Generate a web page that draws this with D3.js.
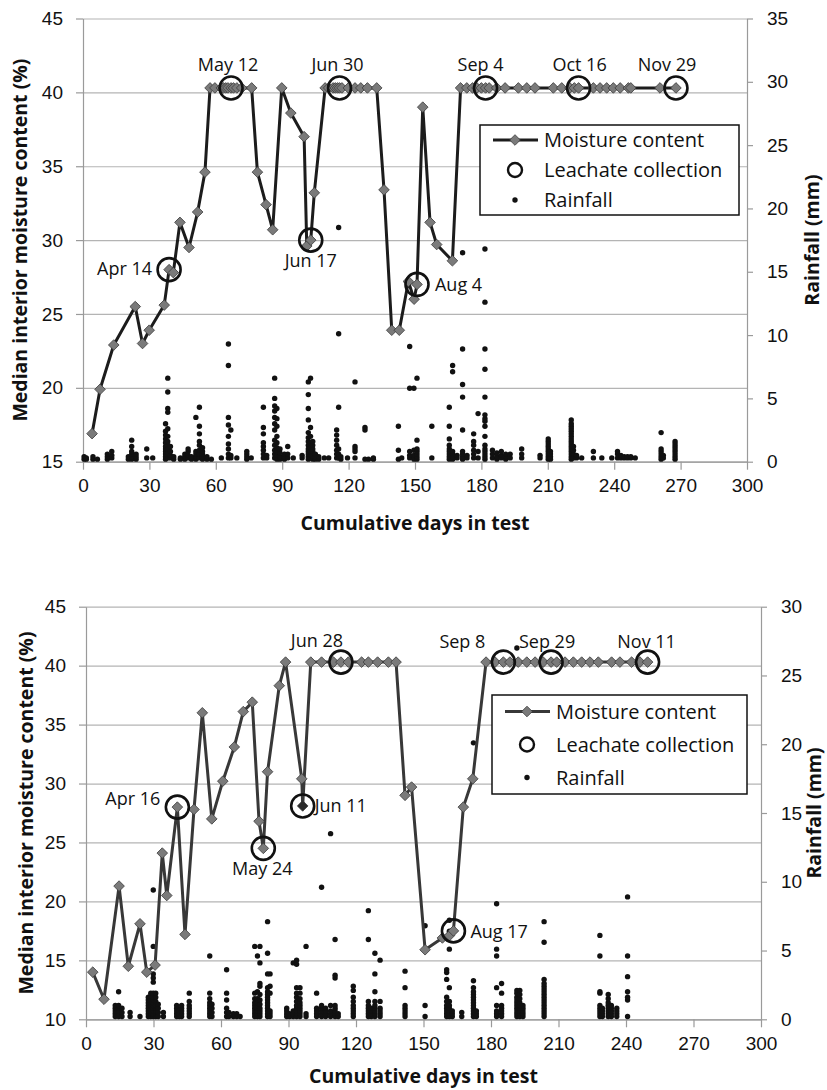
<!DOCTYPE html>
<html>
<head>
<meta charset="utf-8">
<script src="https://cdn.jsdelivr.net/npm/d3@7"></script>
<style>
  body { margin: 0; background: #fff; }
  svg { display: block; font-family: "Open Sans", sans-serif; }
  .grid line { stroke: #b4b4b4; stroke-width: 1.2; }
  .grid path { display: none; }
  .axis path, .axis line { stroke: #9a9a9a; stroke-width: 1.2; }
  .axis text { font-size: 19px; fill: #111; }
  .title { font-size: 19.5px; font-weight: bold; fill: #111; }
  .note { font-size: 18px; fill: #111; }
  .legend text { font-size: 20px; fill: #111; }
</style>
</head>
<body>
<svg id="chart" width="827" height="1090"></svg>
<script>
// ---------- data ----------
const xTicks = [0, 30, 60, 90, 120, 150, 180, 210, 240, 270, 300];

// top panel
const topMoisture = [[4.1,16.9],[7.7,19.9],[13.9,22.9],[23.6,25.5],[26.9,23.0],[29.9,23.9],[36.7,25.6],[38.9,28.0],[40.8,27.8],
  [43.8,31.2],[47.9,29.5],[51.8,31.9],[55.1,34.6],[57.4,40.3],[59.6,40.3],[62.5,40.3],[63.5,40.3],[64.5,40.3],[65.5,40.3],
  [66.9,40.3],[68,40.3],[69.5,40.3],[71.7,40.3],[76.2,40.3],[78.8,34.6],[82.7,32.4],[85.7,30.7],[89.8,40.3],[93.9,38.6],
  [99.9,37.0],[101.1,29.6],[102.9,30.0],[104.5,33.2],[109.4,40.3],[111,40.3],[113,40.3],[114,40.3],[115,40.3],[115.9,40.3],
  [117,40.3],[119.9,40.3],[122.9,40.3],[125.5,40.3],[128.5,40.3],[132.7,40.3],[136,33.4],[139.5,23.9],[142.9,23.9],
  [147,27.2],[149.6,26.0],[150.9,27.0],[153.5,39.0],[156.8,31.2],[159.8,29.7],[166.9,28.6],[170.6,40.3],[173.4,40.3],
  [176,40.3],[178,40.3],[180,40.3],[181.9,40.3],[183.5,40.3],[186.9,40.3],[190.7,40.3],[196.7,40.3],[200.5,40.3],
  [204.2,40.3],[212.5,40.3],[216.3,40.3],[220,40.3],[222,40.3],[223.9,40.3],[230.6,40.3],[233.6,40.3],[236.6,40.3],
  [239.6,40.3],[242.7,40.3],[246.4,40.3],[247.5,40.3],[260.7,40.3],[267.9,40.3]];
const topLeachate = [[38.9,28.0],[66.9,40.3],[102.9,30.0],[115.9,40.3],[150.9,27.0],[181.9,40.3],[223.9,40.3],[267.9,40.3]];
const topLeachateNames = ["Apr 14","May 12","Jun 17","Jun 30","Aug 4","Sep 4","Oct 16","Nov 29"];
const topRain = [
  [0.5,[0.2,0.4]],[1.5,[0.2,0.3]],[4.5,[0.2,0.4]],[6.5,[0.2]],[11,[0.2,0.4,0.6]],[13,[0.3,0.5,0.8]],
  [20.5,[0.2,0.4]],[22,[0.2,0.4,0.6,0.8,1.2,1.7]],[24,[0.2,0.4,0.6]],[28.8,[0.3,1.0]],[31.5,[0.3]],
  [37.3,[0.2,0.4,0.6,0.8,1.0,1.2,1.5,1.8,2.1,2.4,3.0]],[38.3,[0.3,0.5,0.7,1.0,1.3,1.6,2.0,2.6,3.9,4.2,5.5,6.6]],
  [39.5,[0.3,0.5,0.8,1.2]],[41,[0.2,0.4]],[44,[0.2,0.3]],[46,[0.2,0.4,0.6]],[47.5,[0.3,0.5,0.8,1.0]],[49,[0.2,0.4]],
  [51,[0.2,0.4,0.6,0.8,3.5]],[52.6,[0.3,0.6,0.9,1.3,1.6,2.2,2.8,4.3]],[54,[0.2,0.4,0.6,0.8,1.1]],[56,[0.2,0.4]],[58,[0.2]],
  [62.5,[0.3]],[65.7,[0.3,0.6,1.0,1.4,2.0,2.9,3.5,7.6,9.3]],[66.8,[0.3,0.5,2.5]],[69.5,[0.3]],[74,[0.2,0.4,0.6,0.8]],[76,[0.3]],
  [81.5,[0.3,0.6,0.9,1.2,1.5,2.2,2.7,4.3]],[83,[0.3,0.5]],[86.6,[0.3,0.6,0.9,1.3,1.7,2.5,3.0,3.5,4.0,4.4,5.0,6.6]],
  [87.6,[0.2,0.5,0.8,1.1,1.5,2.0,2.8,3.4,4.2]],[89,[0.2,0.4,0.7,1.0]],[91,[0.2,0.4,0.6]],[92.5,[0.3,0.6,1.2]],[95,[0.3]],
  [99,[0.3,0.5]],[101.8,[0.2,0.4,0.6,0.8,1.0,1.3,1.6,1.9,2.3,3.3,4.2,5.3,6.3]],[102.8,[0.3,0.5,0.8,1.1,1.5,2.0,2.7,6.6]],
  [103.8,[0.2,0.4,0.6,0.8,1.0,1.3,1.6]],[105,[0.2,0.4,0.6]],[106.5,[0.2,0.4]],[109,[0.3]],[111,[0.3]],
  [114.6,[0.3,0.6,0.9,1.3,1.7,2.1,2.5]],[115.5,[0.3,0.6,1.0,4.3,10.1,18.5]],[116.5,[0.2,0.4]],[119.5,[0.3]],
  [122.9,[0.3,0.8,1.0,1.2,6.3]],[127.4,[0.2,2.5,2.7]],[129,[0.2]],[131.2,[0.2,0.3]],[142.5,[0.2,0.9,2.8]],[144,[0.3]],
  [147.6,[0.3,0.5,0.8,5.8,9.1]],[149.5,[0.2,0.5,0.9,5.8]],[150.9,[0.2,0.4,0.6,0.8,1.0,1.7,6.6]],[157.6,[0.3,2.8]],
  [165.5,[0.2,0.4,0.6,0.8,1.0,1.3,1.8,2.8,4.3]],[167,[0.2,0.4,0.6,0.8,7.1,7.6]],[169,[0.3,0.5]],
  [171.5,[0.2,0.4,0.6,0.8,2.5,5.1,6.1,8.9,16.5]],[173.5,[0.3,0.5]],[176.5,[0.3,0.6,0.9,1.3,1.6,2.2]],[178.5,[0.3,0.8,3.8]],
  [181.6,[0.2,0.4,0.6,0.8,1.0,1.3,2.0,2.8,3.2,3.4,3.7,5.1,7.3,8.9,12.6,16.8]],[185,[0.3,0.6,0.9]],[187,[0.2,0.4,0.7]],
  [189,[0.3,0.5,0.8]],[191,[0.2,0.4,0.6]],[193,[0.3,0.6]],[198.2,[0.3,0.6,1.0]],[206.5,[0.3,0.5]],
  [210.2,[0.2,0.4,0.6,0.8,1.0,1.2,1.4,1.6,1.8]],[211.2,[0.2,0.4,0.6,0.8]],
  [220.6,[0.2,0.4,0.6,0.8,1.0,1.2,1.4,1.6,1.8,2.0,2.2,2.4,2.6,2.8,3.0,3.3]],[221.6,[0.3,0.6,0.9,1.2]],[223,[0.3,0.5]],
  [225.3,[0.3]],[230.6,[0.3,0.8]],[234.4,[0.3]],[238.9,[0.3]],[241.5,[0.3,0.6,0.8]],[243,[0.3,0.5]],[244.5,[0.3,0.4]],
  [246,[0.3,0.4]],[247.5,[0.3,0.4]],[249.5,[0.3]],[261.2,[0.2,0.4,0.6,0.8,1.0,2.3]],[262.2,[0.3,0.5]],
  [267.5,[0.2,0.4,0.6,0.8,1.0,1.2,1.4,1.6]]];
const topYTicks = [15, 20, 25, 30, 35, 40, 45];
const topRainTicks = [0, 5, 10, 15, 20, 25, 30, 35];

// bottom panel
const botMoisture = [[3.0,14.0],[8.0,11.7],[14.7,21.3],[18.8,14.5],[24.0,18.1],[27.0,14.0],[30.7,14.6],[33.9,24.1],[35.9,20.5],
  [40.6,28.0],[44.0,17.2],[48.0,27.8],[51.7,36.0],[55.9,27.0],[60.8,30.2],[65.9,33.1],[69.9,36.1],[73.9,36.9],[76.9,26.8],
  [78.8,24.5],[80.7,31.0],[85.9,38.3],[88.7,40.3],[95.9,30.4],[96.3,28.1],[99.9,40.3],[104.7,40.3],[110,40.3],[113.3,40.3],
  [116.6,40.3],[122.5,40.3],[125.5,40.3],[129.6,40.3],[134.4,40.3],[137.8,40.3],[141.8,29.0],[144.7,29.7],[150.7,15.9],
  [158.4,16.9],[161.5,17.1],[163.3,17.5],[167.7,28.0],[171.9,30.4],[177.8,40.3],[181.8,40.3],[185.5,40.3],[188.4,40.3],
  [192.1,40.3],[195.9,40.3],[199.6,40.3],[203.2,40.3],[206.7,40.3],[209.2,40.3],[212.9,40.3],[216.6,40.3],[220.3,40.3],
  [224,40.3],[227.7,40.3],[233.6,40.3],[237.3,40.3],[242.5,40.3],[246.2,40.3],[249.6,40.3]];
const botLeachate = [[40.6,28.0],[78.8,24.5],[96.3,28.1],[113.3,40.3],[163.3,17.5],[185.5,40.3],[206.7,40.3],[249.6,40.3]];
const botLeachateNames = ["Apr 16","May 24","Jun 11","Jun 28","Aug 17","Sep 8","Sep 29","Nov 11"];
const botRain = [
  [13,[0.2,0.4,0.6,0.8,1.0]],[14.5,[0.2,0.4,0.6,0.8,1.0,2.0]],[16,[0.2,0.5,0.8]],[19.6,[0.2,0.5]],[24,[0.2]],
  [27.7,[0.2,0.4,0.6,0.8,1.0,1.2,1.4,1.6]],[28.8,[0.2,0.4,0.6,0.8,1.0,1.2,1.4,1.7,1.9]],
  [29.9,[0.2,0.4,0.6,0.8,1.0,1.2,1.4,1.6,1.9,2.7,3.0,3.3,5.3,9.4]],[31,[0.2,0.4,0.6,0.8,1.0,1.3,1.6,1.9]],
  [32.1,[0.2,0.5,0.8,1.1]],[34.4,[0.2,0.5]],[40.3,[0.2,0.4,0.6,0.8,1.0]],[41.5,[0.2,0.4,0.6]],[42.5,[0.2,0.4,0.6,0.8,1.0]],
  [45.9,[0.2,0.4,0.6,0.8,1.0,1.3,1.9]],[55,[0.2,0.4,0.6,0.8,1.0,1.2,1.5,1.9,4.6]],[56,[0.2,0.5,0.8,1.1]],
  [62.5,[0.2,0.5,0.8,1.4,1.9,3.6]],[63.5,[0.2,0.5]],[65.5,[0.2,0.4]],[67,[0.2,0.4]],[68.5,[0.2]],
  [75,[0.2,0.4,0.6,0.8,1.0,1.2,1.5,1.9,5.3]],[76.2,[0.2,0.4,0.6,0.8,1.0,1.2,1.5,2.0,4.6]],
  [77.3,[0.2,0.4,0.6,0.8,1.1,1.4,1.8,2.4,2.6,4.1,5.3]],[80.7,[0.2,0.4,0.6,0.8,1.0,1.2,1.4,1.6,1.8,2.0,2.3,3.3,4.8,7.1]],
  [81.8,[0.2,0.4,0.6,1.9,2.4,3.3]],[89.2,[0.2,0.4,0.6,0.8]],[90.5,[0.2,0.4]],[92.1,[0.2,0.4,0.6,4.1]],
  [93.6,[0.2,0.4,0.6,0.8,1.0,1.3,1.6,1.9,2.3,4.0,4.3]],[95.1,[0.2,0.4,0.6,0.8,1.0,1.2,1.5,1.9,2.3]],[97.8,[0.2,0.4,5.3]],
  [102.5,[0.2,0.4,0.6,0.8,1.9]],[104.7,[0.2,0.4,0.6,0.8,1.0,9.6]],[106.5,[0.2,0.4,0.6,0.8]],[108.7,[0.2,0.4,0.6,1.0,13.5]],
  [110.7,[0.2,0.4,0.6,0.8,1.0,3.0,3.2,5.8]],[112.1,[0.2,0.4]],[118.8,[0.2,0.4,0.6,0.8,1.0,1.3,1.6,2.1,2.4]],
  [125.5,[0.2,0.4,0.6,0.8,1.0,1.3,5.8,7.9]],[126.8,[0.2,0.4,0.6,0.8]],[128.4,[0.2,0.4,0.6,0.8,1.0,1.3,2.0,3.3,4.8]],
  [130.7,[0.2,0.4,0.6,0.8,1.3,4.3]],[141.8,[0.2,0.4,0.6,0.8,1.0,2.3,3.5]],[150.7,[0.2,1.0,6.8]],
  [160.3,[0.2,0.4,0.6,0.8,1.0,1.3,1.6,2.9,3.4,3.6]],[161.5,[0.2,0.4,0.6,0.8,1.0,1.3,2.3,5.1,6.4,7.2]],[162.8,[0.2,0.4,0.6]],
  [167,[0.2,0.5]],[172.2,[0.2,0.4,0.6,0.8,1.0,1.2,1.4,1.6,1.8,2.0,2.3,2.8,20.1]],[173.5,[0.2,0.4,0.6]],
  [182.5,[0.2,0.4,0.6,1.0,2.3,4.6,5.1,8.4]],[184.7,[0.2,0.4,0.6,0.8,1.0,1.9,2.6]],
  [191.5,[0.2,0.4,0.6,0.8,1.0,1.2,1.4,1.6,1.9,2.1,27.0]],[192.8,[0.2,0.4,0.6,0.8,1.0,1.2,1.5,1.8,2.1]],
  [194.2,[0.2,0.4,0.6,0.8,1.0]],[203.6,[0.2,0.4,0.6,0.8,1.0,1.2,1.4,1.6,1.8,2.0,2.2,2.4,2.6,2.9,5.6,7.1]],
  [228.4,[0.2,0.4,0.6,0.8,1.0,1.9,2.0,4.6,6.1]],[229.5,[0.2,0.4,0.6,0.8]],[232.1,[0.2,0.4,0.6,0.8,1.0,1.2,1.5,1.8]],
  [233.5,[0.2,0.4,0.6,0.8,1.0]],[235.9,[0.2,0.4,0.6,0.8]],[240.7,[0.2,1.4,1.6,2.0,3.1,4.6,8.9]]];
const botYTicks = [10, 15, 20, 25, 30, 35, 40, 45];
const botRainTicks = [0, 5, 10, 15, 20, 25, 30];

// ---------- layout ----------
const svg = d3.select("#chart");

// label placement relative to its circle: [anchor, dx, dy]
const topNotePlace = [["end",-17,5],["middle",-3,-17],["middle",0,27],["middle",-2,-17],["start",18,7],["middle",-5,-17],["middle",1,-17],["middle",-9,-17]];
const botNotePlace = [["end",-17,-2],["middle",-1,27],["start",12,6],["middle",-24,-15],["start",17,7],["middle",-41,-14],["middle",-4,-14],["middle",-1,-14]];

function drawPanel(p) {
  const x = d3.scaleLinear().domain([0, 300]).range([p.left, p.right]);
  const y = d3.scaleLinear().domain(p.yDomain).range([p.bottom, p.top]);
  const yr = d3.scaleLinear().domain(p.rDomain).range([p.bottom, p.top]);
  const g = svg.append("g");

  // gridlines
  g.append("g").attr("class", "grid")
    .attr("transform", "translate(" + p.left + ",0)")
    .call(d3.axisLeft(y).tickValues(p.yTicks).tickSize(-(p.right - p.left)).tickFormat(""));

  // axes
  g.append("g").attr("class", "axis")
    .attr("transform", "translate(0," + p.bottom + ")")
    .call(d3.axisBottom(x).tickValues(xTicks).tickSize(8).tickSizeOuter(0).tickPadding(9));
  g.append("g").attr("class", "axis")
    .attr("transform", "translate(" + p.left + ",0)")
    .call(d3.axisLeft(y).tickValues(p.yTicks).tickSize(7).tickSizeOuter(0).tickPadding(13));
  g.append("g").attr("class", "axis")
    .attr("transform", "translate(" + p.right + ",0)")
    .call(d3.axisRight(yr).tickValues(p.rTicks).tickSize(6).tickSizeOuter(0).tickPadding(14));

  // rainfall dots
  const dots = [];
  p.rain.forEach(r => r[1].forEach(v => dots.push([r[0], v])));
  g.append("g").selectAll("circle").data(dots).enter().append("circle")
    .attr("cx", d => x(d[0])).attr("cy", d => yr(d[1]))
    .attr("r", 2.7).attr("fill", "#111");

  // moisture line + diamonds
  g.append("path").datum(p.moisture)
    .attr("fill", "none").attr("stroke", p.lineColor).attr("stroke-width", 3)
    .attr("stroke-linejoin", "round")
    .attr("d", d3.line().x(d => x(d[0])).y(d => y(d[1])));
  const diamond = d3.symbol().type(d3.symbolDiamond2).size(72);
  g.append("g").selectAll("path").data(p.moisture).enter().append("path")
    .attr("d", diamond)
    .attr("transform", d => "translate(" + x(d[0]) + "," + y(d[1]) + ")")
    .attr("fill", (d, i) => i === p.darkIndex ? "#2a2a2a" : "#7a7a7a")
    .attr("stroke", "#3a3a3a").attr("stroke-width", 0.8);

  // leachate circles and dates
  g.append("g").selectAll("circle").data(p.leachate).enter().append("circle")
    .attr("cx", d => x(d[0])).attr("cy", d => y(d[1])).attr("r", 11.5)
    .attr("fill", "none").attr("stroke", "#111").attr("stroke-width", 2.6);
  g.append("g").selectAll("text").data(p.leachate).enter().append("text")
    .attr("class", "note")
    .attr("x", (d, i) => x(d[0]) + p.place[i][1])
    .attr("y", (d, i) => y(d[1]) + p.place[i][2])
    .attr("text-anchor", (d, i) => p.place[i][0])
    .text((d, i) => p.names[i]);

  // axis titles
  const mid = (p.top + p.bottom) / 2;
  g.append("text").attr("class", "title").attr("text-anchor", "middle")
    .attr("x", (p.left + p.right) / 2).attr("y", p.xTitleY).text("Cumulative days in test");
  g.append("text").attr("class", "title").attr("text-anchor", "middle")
    .attr("transform", "translate(" + p.yTitleX + "," + mid + ") rotate(-90)")
    .text("Median interior moisture content (%)");
  g.append("text").attr("class", "title").attr("text-anchor", "middle")
    .attr("transform", "translate(" + p.rTitleX + "," + mid + ") rotate(-90)")
    .text("Rainfall (mm)");

  // legend
  const L = p.legend;
  const lg = g.append("g").attr("class", "legend");
  lg.append("rect").attr("x", L.x).attr("y", L.y).attr("width", L.w).attr("height", L.h)
    .attr("fill", "#fff").attr("stroke", "#111").attr("stroke-width", 1.5);
  const row = L.h / 3;
  const cx = L.x + 35;
  lg.append("line").attr("x1", L.x + 13).attr("x2", L.x + 58)
    .attr("y1", L.y + row * 0.5).attr("y2", L.y + row * 0.5)
    .attr("stroke", p.lineColor).attr("stroke-width", 3);
  lg.append("path").attr("d", diamond)
    .attr("transform", "translate(" + cx + "," + (L.y + row * 0.5) + ")")
    .attr("fill", "#7a7a7a").attr("stroke", "#3a3a3a").attr("stroke-width", 0.8);
  lg.append("circle").attr("cx", cx).attr("cy", L.y + row * 1.5).attr("r", 7)
    .attr("fill", "none").attr("stroke", "#111").attr("stroke-width", 2.4);
  lg.append("circle").attr("cx", cx).attr("cy", L.y + row * 2.5).attr("r", 2.7).attr("fill", "#111");
  ["Moisture content", "Leachate collection", "Rainfall"].forEach((t, i) => {
    lg.append("text").attr("x", L.x + 64).attr("y", L.y + row * (i + 0.5) + 7).text(t);
  });
}

drawPanel({
  left: 83, right: 747, top: 18.5, bottom: 461.7,
  yDomain: [15, 45], rDomain: [0, 35], yTicks: topYTicks, rTicks: topRainTicks,
  moisture: topMoisture, leachate: topLeachate, names: topLeachateNames, place: topNotePlace,
  rain: topRain, lineColor: "#1c1c1c", darkIndex: -1,
  xTitleY: 530, yTitleX: 27, rTitleX: 819,
  legend: { x: 480, y: 125, w: 259, h: 90 }
});

drawPanel({
  left: 86, right: 761, top: 606.7, bottom: 1019.3,
  yDomain: [10, 45], rDomain: [0, 30], yTicks: botYTicks, rTicks: botRainTicks,
  moisture: botMoisture, leachate: botLeachate, names: botLeachateNames, place: botNotePlace,
  rain: botRain, lineColor: "#383838", darkIndex: 24,
  xTitleY: 1083, yTitleX: 33, rTitleX: 821,
  legend: { x: 492, y: 695, w: 255, h: 99 }
});
</script>
</body>
</html>
